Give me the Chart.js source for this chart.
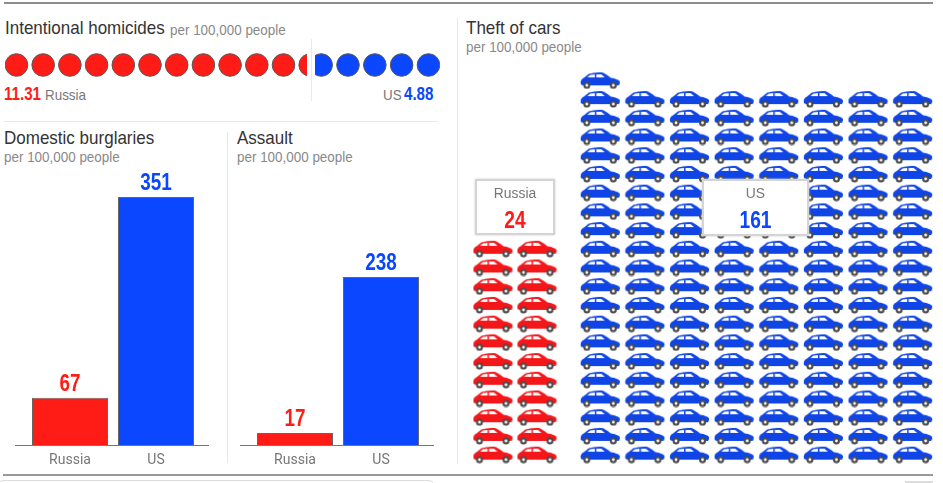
<!DOCTYPE html>
<html>
<head>
<meta charset="utf-8">
<script src="https://cdn.jsdelivr.net/npm/chart.js@4"></script>
<style>
html, body { margin: 0; padding: 0; background: #fff; overflow: hidden; }
body { width: 943px; height: 483px; position: relative; font-family: 'Liberation Sans', sans-serif; }
canvas, .t, .rule, .box { position: absolute; }
.t { white-space: nowrap; line-height: 1; transform-origin: left top; transform: scaleX(.895); }
.head { font-size: 19px; color: #333; }
.sub { font-size: 15px; color: #888; }
.lab { font-size: 15px; color: #777; }
.num { font-weight: bold; font-size: 18px; transform: scaleX(.84); }
.rule { background: #e8e8e8; }
.box { background: #fff; border: 2px solid #d4d4d4; box-sizing: border-box; text-align: center; box-shadow: 0 0 2px #ccc; }
.box .t { position: static; display: block; transform-origin: center top; }
.box .lab { margin-top: 4px; font-size: 15.5px; }
.box .num { margin-top: 7px; font-size: 24px; transform: scaleX(.8); }
</style>
</head>
<body>
<div class="rule" style="left:4px;top:2px;width:929px;height:2px;background:#8e8e8e"></div>
<div class="rule" style="left:3px;top:474px;width:930px;height:2px;background:#999"></div>
<div class="rule" style="left:457px;top:18px;width:1px;height:445px"></div>
<div class="rule" style="left:311px;top:39px;width:1px;height:62px"></div>
<div class="rule" style="left:4px;top:121px;width:434px;height:1px"></div>
<div class="rule" style="left:227px;top:132px;width:1px;height:331px"></div>
<div style="position:absolute;left:-2px;top:480px;width:436px;height:10px;border:1px solid #ddd;border-radius:5px;box-sizing:border-box"></div>
<div class="rule" style="left:905px;top:481px;width:28px;height:2px;background:#ddd"></div>

<div class="t head" style="left:5px;top:18px">Intentional homicides</div>
<div class="t sub" style="left:170px;top:22px">per 100,000 people</div>
<div class="t num" id="ruHom" style="left:4px;top:85px;color:#ff1c17"></div>
<div class="t lab" style="left:45px;top:87px">Russia</div>
<div class="t lab" style="left:383px;top:87px">US</div>
<div class="t num" id="usHom" style="left:404px;top:85px;color:#0a47ff"></div>

<div class="t head" style="left:4px;top:128px">Domestic burglaries</div>
<div class="t sub" style="left:4px;top:149px">per 100,000 people</div>
<div class="t head" style="left:237px;top:128px">Assault</div>
<div class="t sub" style="left:237px;top:149px">per 100,000 people</div>
<div class="t head" style="left:466px;top:18px">Theft of cars</div>
<div class="t sub" style="left:466px;top:39px">per 100,000 people</div>

<canvas id="homRu" width="302" height="30" style="left:5px;top:50px"></canvas>
<canvas id="homUs" width="125" height="30" style="left:315px;top:50px"></canvas>
<canvas id="burglary" width="194" height="310" style="left:15px;top:160px"></canvas>
<canvas id="assault" width="194" height="310" style="left:240px;top:160px"></canvas>
<canvas id="carsRu" width="88" height="393" style="left:471px;top:71px"></canvas>
<canvas id="carsUs" width="357" height="393" style="left:578px;top:71px"></canvas>

<div class="box" style="left:475px;top:179px;width:80px;height:56px"><span class="t lab">Russia</span><span class="t num" id="ruCars" style="color:#ff1c17"></span></div>
<div class="box" style="left:702px;top:179px;width:107px;height:57px"><span class="t lab">US</span><span class="t num" id="usCars" style="color:#0a47ff"></span></div>

<script>
const countries = ['Russia', 'US'];
const homicides = [11.31, 4.88];
const burglaries = [67, 351];
const assaults = [17, 238];
const carThefts = [24, 161];

const RED = '#ff1c17';
const BLUE = '#0a47ff';
const COLORS = [RED, BLUE];
const FONT = "'Liberation Sans', sans-serif";

document.getElementById('ruHom').textContent = homicides[0];
document.getElementById('usHom').textContent = homicides[1];
document.getElementById('ruCars').textContent = carThefts[0];
document.getElementById('usCars').textContent = carThefts[1];

// one car icon, used as the point style of the unit charts
function carIcon(color) {
    const c = document.createElement('canvas');
    c.width = 41;
    c.height = 18;
    const g = c.getContext('2d');
    g.fillStyle = color;
    g.beginPath();
    g.moveTo(1, 13);
    g.quadraticCurveTo(0, 8, 4, 6.5);
    g.lineTo(9, 2.5);
    g.quadraticCurveTo(15, 0.5, 22, 1);
    g.quadraticCurveTo(25, 1.5, 31, 6.5);
    g.quadraticCurveTo(38, 7.5, 40, 10);
    g.quadraticCurveTo(40.5, 12, 39, 14);
    g.lineTo(3, 14);
    g.closePath();
    g.fill();
    g.fillStyle = '#fff';
    g.beginPath();
    g.moveTo(7.5, 6); g.lineTo(10.5, 3.5); g.lineTo(15, 3); g.lineTo(15, 6);
    g.closePath();
    g.fill();
    g.beginPath();
    g.moveTo(16.5, 3); g.lineTo(21.5, 3); g.lineTo(25, 6); g.lineTo(16.5, 6);
    g.closePath();
    g.fill();
    [7, 33.5].forEach(function (x) {
        g.beginPath();
        g.arc(x, 14, 3.5, 0, Math.PI * 2);
        g.fillStyle = '#4a4a4a';
        g.fill();
        g.beginPath();
        g.arc(x, 14, 1.4, 0, Math.PI * 2);
        g.fillStyle = '#fff';
        g.fill();
    });
    return c;
}

const hiddenScale = function (min, max, reverse) {
    return { type: 'linear', display: false, min: min, max: max, reverse: !!reverse };
};

// circles: one per whole unit, the last one cut at the chart edge
function circleChart(id, value, color, axisMax, reverse) {
    const points = [];
    for (let i = 0; i < Math.ceil(value); i++) {
        points.push({ x: i + 0.43, y: 0 });
    }
    new Chart(document.getElementById(id), {
        type: 'scatter',
        data: { datasets: [{
            data: points,
            pointRadius: 11.3,
            pointBackgroundColor: color,
            pointBorderColor: '#5a5a5a',
            pointBorderWidth: 1,
            clip: { left: 0, right: 0, top: false, bottom: false }
        }] },
        options: {
            responsive: false,
            animation: false,
            events: [],
            layout: { autoPadding: false },
            plugins: { legend: { display: false }, tooltip: { enabled: false } },
            scales: { x: hiddenScale(0, axisMax, reverse), y: hiddenScale(-1, 1) }
        }
    });
}

circleChart('homRu', homicides[0], RED, homicides[0], false);
// the US row is cut by the divider gap, a little short of 4.88
circleChart('homUs', homicides[1], BLUE, 4.66, true);

// value above each bar and the long baseline under them
const barExtras = {
    id: 'barExtras',
    afterDatasetsDraw: function (chart) {
        const g = chart.ctx;
        const meta = chart.getDatasetMeta(0);
        const zero = chart.scales.y.getPixelForValue(0);
        g.save();
        g.strokeStyle = '#777';
        g.lineWidth = 1;
        g.beginPath();
        g.moveTo(0, zero + 0.5);
        g.lineTo(chart.width, zero + 0.5);
        g.stroke();
        g.font = 'bold 23px ' + FONT;
        g.textAlign = 'center';
        g.textBaseline = 'alphabetic';
        meta.data.forEach(function (bar, i) {
            g.save();
            g.translate(bar.x, bar.y - 7);
            g.scale(0.82, 1);
            g.fillStyle = COLORS[i];
            g.fillText(chart.data.datasets[0].data[i], 0, 0);
            g.restore();
        });
        g.restore();
    }
};

function barChart(id, values) {
    new Chart(document.getElementById(id), {
        type: 'bar',
        data: {
            labels: countries,
            datasets: [{
                data: values,
                backgroundColor: COLORS,
                borderColor: '#666',
                borderWidth: { top: 1, left: 1, right: 1, bottom: 0 },
                borderSkipped: false,
                categoryPercentage: 1,
                barPercentage: 0.884
            }]
        },
        plugins: [barExtras],
        options: {
            responsive: false,
            animation: false,
            events: [],
            layout: { padding: { left: 12, right: 10, top: 0, bottom: 0 } },
            plugins: { legend: { display: false }, tooltip: { enabled: false } },
            scales: {
                x: {
                    grid: { display: false, drawTicks: false },
                    border: { display: false },
                    ticks: { color: '#777', font: { family: "Roboto, sans-serif", size: 14 }, padding: 7 },
                    afterFit: function (scale) { scale.height = 25; }
                },
                y: { display: false, min: 0, max: 403.5 }
            }
        }
    });
}

barChart('burglary', burglaries);
barChart('assault', assaults);

function carChart(id, count, columns, color) {
    const points = [];
    for (let i = 0; i < count; i++) {
        points.push({ x: i % columns, y: Math.floor(i / columns) });
    }
    new Chart(document.getElementById(id), {
        type: 'scatter',
        data: { datasets: [{ data: points, pointStyle: carIcon(color), clip: false }] },
        options: {
            responsive: false,
            animation: false,
            events: [],
            layout: { autoPadding: false },
            plugins: { legend: { display: false }, tooltip: { enabled: false } },
            scales: { x: hiddenScale(-0.5, columns - 0.5), y: hiddenScale(-0.5, 20.5) }
        }
    });
}

carChart('carsRu', carThefts[0], 2, '#f5161a');
carChart('carsUs', carThefts[1], 8, '#0f45e6');
</script>
</body>
</html>
